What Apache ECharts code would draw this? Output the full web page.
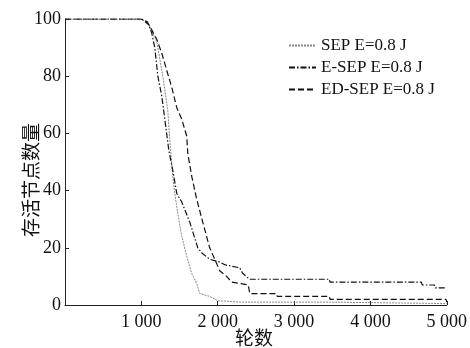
<!DOCTYPE html>
<html><head><meta charset="utf-8">
<script src="https://cdn.jsdelivr.net/npm/echarts@6/dist/echarts.min.js"></script>
<style>html,body{margin:0;padding:0;background:#fff}#c{width:470px;height:348px}</style>
</head><body><div id="c"></div>
<script>
const seriesNames = ['SEP E=0.8 J', 'E-SEP E=0.8 J', 'ED-SEP E=0.8 J'];
const xTicks = [0, 1000, 2000, 3000, 4000, 5000];
const yTicks = [0, 20, 40, 60, 80, 100];

const sepRounds = [0, 1000, 1100, 1203, 1281, 1346, 1380, 1412, 1438, 1477, 1529, 1595, 1660, 1725, 1765, 1895, 2000, 2300, 3464, 3470, 5000];
const sepValues = [100, 100, 98, 92, 80, 68, 55, 45, 39, 32, 24, 17, 11, 7.5, 4, 3, 1.5, 1, 1, 0.5, 0.5];

const esepRounds = [0, 1000, 1080, 1137, 1176, 1216, 1268, 1307, 1360, 1412, 1464, 1529, 1634, 1739, 1800, 1895, 2026, 2100, 2288, 2330, 2418, 3464, 3470, 4667, 4680, 4837, 4850, 5000];
const esepValues = [100, 100, 99, 95, 90, 80, 73, 65, 54, 47, 39, 36, 29, 20, 18, 16, 15, 14, 13, 11, 9, 9, 8, 8, 7, 7, 6, 6];

const edsepRounds = [0, 1000, 1100, 1200, 1268, 1333, 1399, 1464, 1529, 1595, 1608, 1660, 1725, 1804, 1895, 1961, 2026, 2118, 2183, 2400, 2420, 2771, 2780, 3464, 3470, 4990, 5000];
const edsepValues = [100, 100, 98, 93, 88, 82, 76, 69, 65, 59, 53, 45, 37, 29, 20, 16, 12, 10, 8, 7, 4, 4, 3, 3, 2, 2, 1];

function pairs(xs, ys) { return xs.map((x, i) => [x, ys[i]]); }

const chart = echarts.init(document.getElementById('c'));
const serif = 'Liberation Serif';
chart.setOption({
  animation: false,
  backgroundColor: '#fff',
  grid: { left: 65, top: 19, right: 22, bottom: 43 },
  legend: {
    orient: 'vertical', left: 283, top: 32,
    itemWidth: 27, itemHeight: 14, itemGap: 5,
    itemStyle: { opacity: 0 },
    textStyle: { fontFamily: serif, fontSize: 17, color: '#111' },
    data: seriesNames
  },
  xAxis: {
    type: 'value', min: xTicks[0], max: xTicks[xTicks.length - 1], interval: 1000,
    axisLine: { lineStyle: { color: '#222', width: 1 } },
    axisTick: { inside: true, length: 4, lineStyle: { color: '#222' } },
    splitLine: { show: false },
    axisLabel: {
      margin: 8, fontFamily: serif, fontSize: 18, color: '#111',
      formatter: v => v === 0 ? '' : String(v).replace(/(\d)(\d{3})$/, '$1 $2')
    }
  },
  yAxis: {
    type: 'value', min: yTicks[0], max: yTicks[yTicks.length - 1], interval: 20,
    axisLine: { show: true, lineStyle: { color: '#222', width: 1 } },
    axisTick: { show: true, inside: true, length: 4, lineStyle: { color: '#222' } },
    splitLine: { show: false },
    axisLabel: { margin: 4, fontFamily: serif, fontSize: 18, color: '#111' }
  },
  graphic: [
    { type: 'text', x: 21, y: 180, rotation: Math.PI / 2,
      style: { text: '存活节点数量', fontFamily: 'Noto Sans CJK SC', fontSize: 19, fill: '#111', align: 'center', verticalAlign: 'top' } },
    { type: 'text', x: 254, y: 338,
      style: { text: '轮数', fontFamily: 'Noto Sans CJK SC', fontSize: 19, fill: '#111', align: 'center', verticalAlign: 'middle' } }
  ],
  series: [
    { name: seriesNames[0], type: 'line', symbol: 'none', data: pairs(sepRounds, sepValues),
      lineStyle: { color: '#888', width: 1, type: [2, 1] }, itemStyle: { color: '#888' } },
    { name: seriesNames[1], type: 'line', symbol: 'none', data: pairs(esepRounds, esepValues),
      lineStyle: { color: '#111', width: 1.2, type: [6, 2, 1.5, 2] }, itemStyle: { color: '#111' } },
    { name: seriesNames[2], type: 'line', symbol: 'none', data: pairs(edsepRounds, edsepValues),
      lineStyle: { color: '#111', width: 1.2, type: [6, 3] }, itemStyle: { color: '#111' } }
  ]
});
</script></body></html>
